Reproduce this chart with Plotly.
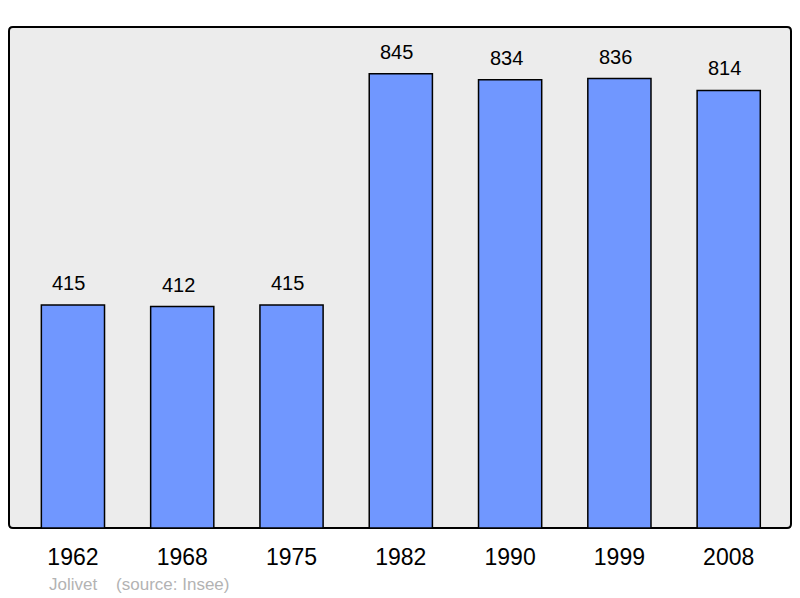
import plotly.graph_objects as go

years = ["1962", "1968", "1975", "1982", "1990", "1999", "2008"]
population = [415, 412, 415, 845, 834, 836, 814]
source_text = "Jolivet    (source: Insee)"

BAR_COLOR = "#7097ff"
FONT = "Liberation Sans, Arial, sans-serif"

fig = go.Figure()
fig.add_trace(go.Bar(
    x=list(range(len(years))),
    y=population,
    width=0.578,
    marker=dict(color=BAR_COLOR, line=dict(color="black", width=1.5)),
    hoverinfo="skip",
))

for i, v in enumerate(population):
    fig.add_annotation(x=i, y=v, text=str(v), showarrow=False,
                       yanchor="bottom", yshift=9, xshift=-4,
                       font=dict(family=FONT, size=20, color="black"))

# rounded frame
fig.add_shape(type="path", xref="paper", yref="paper", layer="below",
              path="M 0,0.008 L 0,0.992 Q 0,1 0.005,1 L 0.995,1 Q 1,1 1,0.992 L 1,0.008 Q 1,0 0.995,0 L 0.005,0 Q 0,0 0,0.008 Z",
              fillcolor="#ececec", line=dict(color="black", width=2))

fig.add_annotation(xref="paper", yref="paper", x=(47 - 9) / 782, y=-(584 - 528) / 501,
                   text=source_text, showarrow=False, xanchor="left", yanchor="middle",
                   font=dict(family=FONT, size=17, color="#b3b3b3"))

fig.update_layout(
    width=792, height=590,
    margin=dict(l=1, r=9, t=19, b=70),
    paper_bgcolor="white", plot_bgcolor="rgba(0,0,0,0)",
    showlegend=False,
    xaxis=dict(range=[-0.585, 6.57], tickmode="array", tickvals=list(range(len(years))),
               ticktext=years, showgrid=False, zeroline=False, showline=False,
               ticks="outside", ticklen=8, tickcolor="rgba(0,0,0,0)",
               tickfont=dict(family=FONT, size=23, color="black")),
    yaxis=dict(range=[0, 932], showgrid=False, zeroline=False, showticklabels=False,
               showline=False),
)

fig.write_html("out.html")
